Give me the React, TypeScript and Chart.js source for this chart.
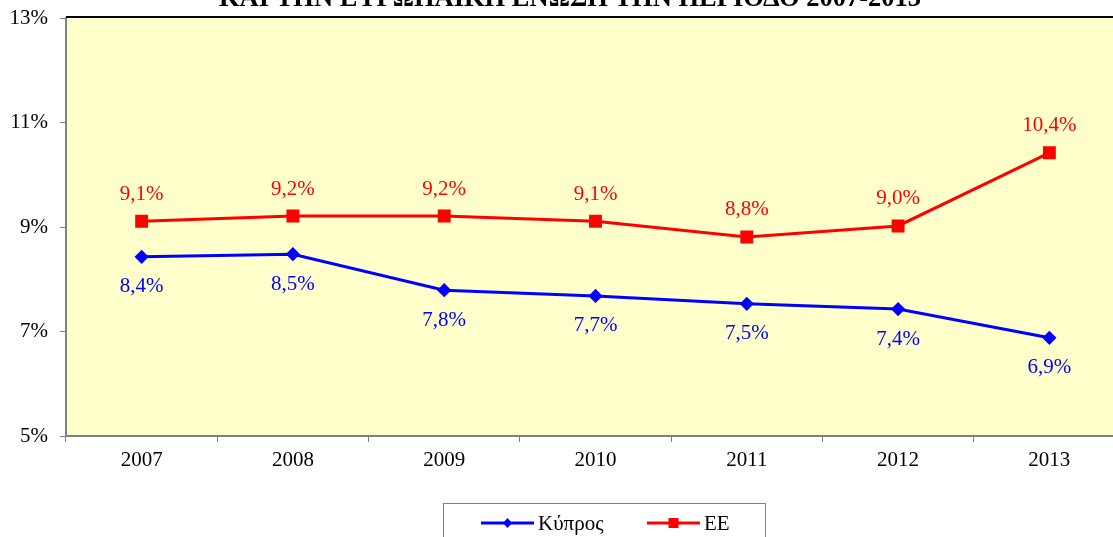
import React, { useEffect, useRef } from "react";
import { Chart, registerables } from "chart.js";

Chart.register(...registerables);

const years = ["2007", "2008", "2009", "2010", "2011", "2012", "2013"];
const cyprus = [8.43, 8.48, 7.79, 7.68, 7.53, 7.43, 6.88];
const eu = [9.11, 9.21, 9.21, 9.11, 8.81, 9.02, 10.42];
const seriesNames = ["Κύπρος", "ΕΕ"];
const yTicks = [5, 7, 9, 11, 13];
const titleText = "ΚΑΙ ΤΗΝ ΕΥΡΩΠΑΪΚΗ ΕΝΩΣΗ ΤΗΝ ΠΕΡΙΟΔΟ 2007-2013";

const FONT = '"Liberation Serif", "Times New Roman", serif';
const fmt = (v: number) => v.toFixed(1).replace(".", ",") + "%";

const customPlugin = {
  id: "custom",
  beforeDraw(chart: any) {
    const { ctx, chartArea } = chart;
    ctx.save();
    ctx.fillStyle = "#FFFFCC";
    ctx.fillRect(chartArea.left, chartArea.top, chartArea.right - chartArea.left, chartArea.bottom - chartArea.top);
    ctx.restore();
  },
  afterDatasetsDraw(chart: any) {
    const { ctx } = chart;
    ctx.save();
    ctx.font = `21px ${FONT}`;
    ctx.textAlign = "center";
    ctx.textBaseline = "middle";
    chart.data.datasets.forEach((ds: any, i: number) => {
      const meta = chart.getDatasetMeta(i);
      meta.data.forEach((pt: any, j: number) => {
        ctx.fillStyle = ds.borderColor;
        const dy = i === 0 ? 30 : -27;
        ctx.fillText(fmt(ds.data[j]), pt.x, pt.y + dy);
      });
    });
    ctx.restore();
  },
  afterDraw(chart: any) {
    const { ctx, chartArea } = chart;
    ctx.save();
    // top border
    ctx.strokeStyle = "#000000";
    ctx.lineWidth = 2;
    ctx.beginPath();
    ctx.moveTo(chartArea.left, chartArea.top - 1);
    ctx.lineTo(chartArea.right, chartArea.top - 1);
    ctx.stroke();
    // title (cut off at top)
    ctx.fillStyle = "#000000";
    ctx.font = `bold 26.5px ${FONT}`;
    ctx.textAlign = "center";
    ctx.textBaseline = "alphabetic";
    ctx.fillText(titleText, 570, 6);
    // legend box
    ctx.strokeStyle = "#808080";
    ctx.lineWidth = 1;
    ctx.strokeRect(443.5, 503.5, 322, 60);
    const items = [
      { x: 481, color: chart.data.datasets[0].borderColor, style: "rectRot" },
      { x: 647, color: chart.data.datasets[1].borderColor, style: "rect" },
    ];
    const ly = 523;
    items.forEach((it, i) => {
      ctx.strokeStyle = it.color;
      ctx.fillStyle = it.color;
      ctx.lineWidth = 3;
      ctx.beginPath();
      ctx.moveTo(it.x, ly);
      ctx.lineTo(it.x + 53, ly);
      ctx.stroke();
      const cx = it.x + 26.5;
      ctx.beginPath();
      if (it.style === "rect") {
        ctx.rect(cx - 5, ly - 5, 10, 10);
      } else {
        ctx.moveTo(cx, ly - 5);
        ctx.lineTo(cx + 4.5, ly);
        ctx.lineTo(cx, ly + 5);
        ctx.lineTo(cx - 4.5, ly);
        ctx.closePath();
      }
      ctx.fill();
      ctx.fillStyle = "#000000";
      ctx.font = `21px ${FONT}`;
      ctx.textAlign = "left";
      ctx.textBaseline = "middle";
      ctx.fillText(seriesNames[i], it.x + 57, ly + 1);
    });
    ctx.restore();
  },
};

export default function App() {
  const ref = useRef<HTMLCanvasElement>(null);
  useEffect(() => {
    document.body.style.margin = "0";
    const chart = new Chart(ref.current!, {
      type: "line",
      data: {
        labels: years,
        datasets: [
          {
            label: seriesNames[0],
            data: cyprus,
            borderColor: "#0000FF",
            backgroundColor: "#0000FF",
            borderWidth: 3,
            pointStyle: "rectRot",
            pointRadius: 5,
            pointHoverRadius: 5,
            tension: 0,
          },
          {
            label: seriesNames[1],
            data: eu,
            borderColor: "#FF0000",
            backgroundColor: "#FF0000",
            borderWidth: 3,
            pointStyle: "rect",
            pointRadius: 7,
            pointHoverRadius: 7,
            tension: 0,
          },
        ],
      },
      options: {
        animation: false,
        responsive: false,
        maintainAspectRatio: false,
        layout: { padding: { top: 18, right: 15, left: 0, bottom: 0 } },
        plugins: { legend: { display: false }, title: { display: false }, tooltip: { enabled: false } },
        scales: {
          x: {
            type: "category",
            offset: true,
            grid: { offset: true, drawOnChartArea: false, drawTicks: true, tickLength: 6, color: "#808080", lineWidth: 1 },
            border: { color: "#808080", width: 2 },
            ticks: { font: { family: FONT, size: 21 }, color: "#000000", padding: 6, maxRotation: 0 },
            afterFit(scale: any) {
              scale.height = 101;
              scale.paddingLeft = 0;
              scale.paddingRight = 0;
            },
          },
          y: {
            min: 5,
            max: 13,
            afterBuildTicks(scale: any) {
              scale.ticks = yTicks.map((v) => ({ value: v }));
            },
            grid: { drawOnChartArea: false, drawTicks: true, tickLength: 6, color: "#808080", lineWidth: 1 },
            border: { color: "#808080", width: 2 },
            ticks: {
              font: { family: FONT, size: 21 },
              color: "#000000",
              padding: 12,
              callback: (v: any) => v + "%",
            },
            afterFit(scale: any) {
              scale.width = 66;
              scale.paddingTop = 0;
              scale.paddingBottom = 0;
            },
          },
        },
      },
      plugins: [customPlugin],
    });
    return () => chart.destroy();
  }, []);
  return (
    <div style={{ width: 1113, height: 537, overflow: "hidden", position: "relative" }}>
      <canvas ref={ref} width={1140} height={537} style={{ display: "block", width: 1140, height: 537 }} />
    </div>
  );
}
